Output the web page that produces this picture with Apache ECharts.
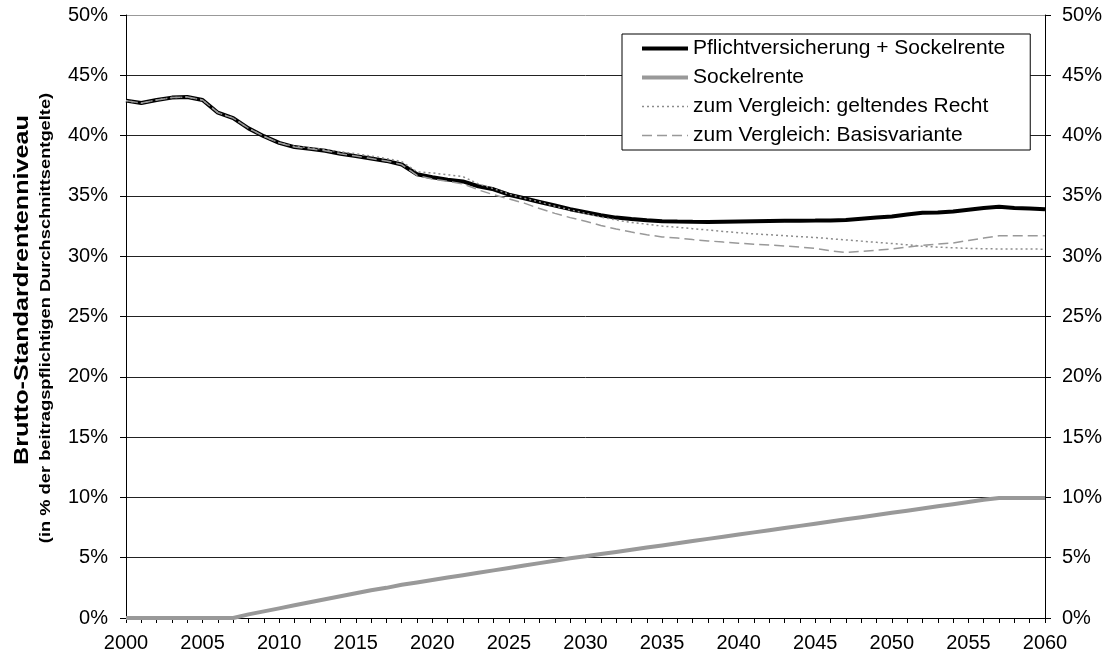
<!DOCTYPE html>
<html>
<head>
<meta charset="utf-8">
<script src="https://cdn.jsdelivr.net/npm/echarts@6/dist/echarts.min.js"></script>
<style>
html,body{margin:0;padding:0;background:#fff;}
#chart{width:1114px;height:664px;}
</style>
</head>
<body>
<div id="chart"></div>
<script>
const years = [];
for (let y = 2000; y <= 2060; y++) years.push(String(y));

const seriesNames = [
  'Pflichtversicherung + Sockelrente',
  'Sockelrente',
  'zum Vergleich: geltendes Recht',
  'zum Vergleich: Basisvariante'
];

const pflichtPlusSockel = [
  42.9, 42.7, 42.95, 43.15, 43.2, 42.95, 41.9, 41.45, 40.6, 39.95,
  39.4, 39.05, 38.9, 38.75, 38.5, 38.3, 38.1, 37.9, 37.6, 36.8,
  36.55, 36.35, 36.2, 35.8, 35.55, 35.1, 34.8, 34.5, 34.2, 33.9,
  33.65, 33.4, 33.2, 33.08, 32.98, 32.9, 32.87, 32.85, 32.84, 32.86,
  32.88, 32.9, 32.92, 32.93, 32.94, 32.95, 32.97, 33.0, 33.1, 33.2,
  33.3, 33.45, 33.6, 33.62, 33.7, 33.85, 34.0, 34.1, 34.0, 33.95,
  33.9
];

const sockelrente = [
  0, 0, 0, 0, 0, 0, 0, 0, 0.3, 0.55,
  0.8, 1.05, 1.3, 1.55, 1.8, 2.05, 2.3, 2.5, 2.75, 2.95,
  3.15, 3.35, 3.55, 3.75, 3.95, 4.15, 4.35, 4.55, 4.75, 4.95,
  5.12, 5.3, 5.48, 5.66, 5.84, 6.02, 6.2, 6.38, 6.56, 6.74,
  6.92, 7.1, 7.28, 7.46, 7.64, 7.82, 8.0, 8.18, 8.36, 8.54,
  8.72, 8.9, 9.08, 9.26, 9.44, 9.62, 9.8, 9.95, 9.95, 9.95,
  9.95
];

const geltendesRecht = [
  42.9, 42.7, 42.95, 43.15, 43.2, 42.95, 41.9, 41.45, 40.6, 39.95,
  39.4, 39.1, 39.0, 38.85, 38.65, 38.5, 38.3, 38.1, 37.85, 37.0,
  36.9, 36.75, 36.6, 36.0, 35.6, 35.15, 34.8, 34.5, 34.15, 33.85,
  33.55, 33.25, 33.0, 32.8, 32.65, 32.5, 32.4, 32.28, 32.17, 32.05,
  31.95, 31.85, 31.78, 31.7, 31.62, 31.55, 31.45, 31.35, 31.25, 31.15,
  31.05, 30.95, 30.82, 30.75, 30.7, 30.65, 30.62, 30.6, 30.6, 30.6,
  30.58
];

const basisvariante = [
  42.9, 42.7, 42.95, 43.15, 43.2, 42.95, 41.9, 41.45, 40.6, 39.95,
  39.4, 39.05, 38.9, 38.75, 38.5, 38.3, 38.1, 37.9, 37.6, 36.7,
  36.4, 36.2, 36.0, 35.5, 35.1, 34.75, 34.4, 33.95, 33.55, 33.2,
  32.9, 32.55, 32.25, 32.0, 31.78, 31.6, 31.5, 31.38, 31.27, 31.17,
  31.08, 31.0, 30.92, 30.85, 30.75, 30.65, 30.45, 30.3, 30.4, 30.5,
  30.6, 30.75, 30.9, 31.0, 31.1, 31.3, 31.5, 31.7, 31.7, 31.7,
  31.7
];

const yTicks = [0, 5, 10, 15, 20, 25, 30, 35, 40, 45, 50];
const yTitle = 'Brutto-Standardrentenniveau';
const ySubTitle = '(in % der beitragspflichtigen Durchschnittsentgelte)';

const FONT = 'Liberation Sans, Arial, sans-serif';

const styles = [
  {color: '#000', width: 4, type: 'solid'},
  {color: '#999', width: 4, type: 'solid'},
  {color: '#8c8c8c', width: 1.5, type: [2, 3]},
  {color: '#999', width: 1.5, type: [10, 5]}
];

const chart = echarts.init(document.getElementById('chart'), null, {renderer: 'canvas'});

const yAxisCommon = {
  type: 'value',
  min: yTicks[0],
  max: yTicks[yTicks.length - 1],
  interval: 5,
  axisLine: {show: true, lineStyle: {color: '#000', width: 1}},
  axisTick: {show: true, length: 6, lineStyle: {color: '#000'}},
  axisLabel: {formatter: '{value}%', color: '#000', fontFamily: FONT, fontSize: 20},
};

chart.setOption({
  animation: false,
  backgroundColor: '#fff',
  grid: {left: 126, right: 69, top: 15, bottom: 46, containLabel: false},
  legend: {
    orient: 'vertical',
    left: 622,
    top: 34,
    data: seriesNames.map((n, i) => ({
      name: n,
      itemStyle: {opacity: 0},
      lineStyle: {color: styles[i].color, width: styles[i].width, type: styles[i].type}
    })),
    backgroundColor: '#fff',
    borderColor: '#000',
    borderWidth: 1,
    borderRadius: 0,
    padding: [4, 25, 4, 18],
    itemWidth: 46,
    itemHeight: 14,
    itemGap: 8,
    textStyle: {color: '#000', fontFamily: FONT, fontSize: 21},
    selectedMode: false
  },
  xAxis: {
    type: 'category',
    data: years,
    boundaryGap: false,
    axisLine: {show: true, lineStyle: {color: '#000', width: 1}},
    axisTick: {show: true, interval: 0, length: 5, lineStyle: {color: '#000'}},
    axisLabel: {interval: 4, color: '#000', fontFamily: FONT, fontSize: 20, margin: 15},
    splitLine: {show: false}
  },
  yAxis: [
    Object.assign({}, yAxisCommon, {
      position: 'left',
      axisLabel: Object.assign({}, yAxisCommon.axisLabel, {margin: 18}),
      splitLine: {show: true, lineStyle: {color: ['#000','#222','#222','#222','#222','#222','#222','#222','#222','#222','#999'], width: 1}}
    }),
    Object.assign({}, yAxisCommon, {
      position: 'right',
      axisLabel: Object.assign({}, yAxisCommon.axisLabel, {margin: 17}),
      splitLine: {show: false}
    })
  ],
  graphic: [
    {
      type: 'text',
      rotation: Math.PI / 2,
      x: 22, y: 290,
      scaleX: 1.2,
      style: {
        text: yTitle,
        font: 'bold 21px ' + FONT,
        fill: '#000',
        textAlign: 'center',
        textVerticalAlign: 'middle'
      }
    },
    {
      type: 'text',
      rotation: Math.PI / 2,
      x: 46, y: 318,
      scaleX: 1.22,
      style: {
        text: ySubTitle,
        font: 'bold 15px ' + FONT,
        fill: '#000',
        textAlign: 'center',
        textVerticalAlign: 'middle'
      }
    }
  ],
  series: seriesNames.map((n, i) => ({
    name: n,
    type: 'line',
    data: [pflichtPlusSockel, sockelrente, geltendesRecht, basisvariante][i],
    symbol: 'none',
    lineStyle: {color: styles[i].color, width: styles[i].width, type: styles[i].type},
    itemStyle: {color: styles[i].color},
    z: 2 + i
  }))
});
</script>
</body>
</html>
